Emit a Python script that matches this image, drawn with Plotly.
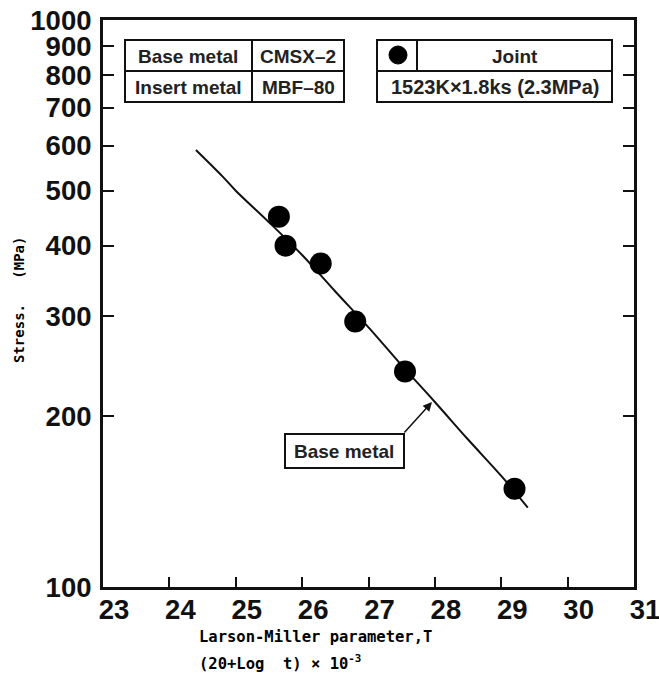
import plotly.graph_objects as go

# ---- data ----
joint_lmp = [25.65, 25.75, 26.28, 26.8, 27.55, 29.2]
joint_stress = [450, 400, 372, 294, 240, 149]

base_lmp = [24.4, 24.8, 25.0, 25.5, 26.0, 26.5, 27.0, 27.5, 28.0, 28.5, 29.0, 29.4]
base_stress = [590, 530, 500, 440, 385, 332, 287, 246, 212, 182, 157, 138]

x_ticks = [23, 24, 25, 26, 27, 28, 29, 30, 31]
y_ticks = [100, 200, 300, 400, 500, 600, 700, 800, 900, 1000]

# ---- layout helpers (pixel -> paper) ----
W, H = 659, 677
L, R, T, B = 103, 634, 20, 587


def px(x):
    return (x - L) / (R - L)


def py(y):
    return (B - y) / (B - T)


fig = go.Figure()
fig.add_trace(go.Scatter(x=base_lmp, y=base_stress, mode="lines",
                         line=dict(color="#111", width=2, shape="spline"),
                         hoverinfo="skip"))
fig.add_trace(go.Scatter(x=joint_lmp, y=joint_stress, mode="markers",
                         marker=dict(color="#000", size=22)))

tickfont = dict(family="Liberation Sans, Arial, sans-serif", size=27.5, color="#111", weight="bold")

fig.update_xaxes(range=[23, 31], tickvals=x_ticks, ticktext=[str(v) for v in x_ticks],
                 ticks="inside", ticklen=10, tickwidth=2, tickcolor="#111",
                 showline=True, linewidth=3, linecolor="#111", mirror=True,
                 showgrid=False, zeroline=False, tickfont=tickfont, ticklabelshift=11,
                 ticklabelstandoff=-4, ticklabeloverflow="allow", automargin=False)
fig.update_yaxes(type="log", range=[2, 3], tickvals=y_ticks, ticktext=[str(v) for v in y_ticks],
                 ticks="inside", ticklen=11, tickwidth=2, tickcolor="#111",
                 showline=True, linewidth=3, linecolor="#111", mirror="ticks",
                 showgrid=False, zeroline=False, tickfont=tickfont, ticklabelstandoff=3,
                 ticklabeloverflow="allow", automargin=False)

lw = dict(color="#111", width=2)
shapes = [
    # left table
    dict(type="rect", x0=px(125), x1=px(344), y0=py(102), y1=py(40), line=lw),
    dict(type="line", x0=px(252), x1=px(252), y0=py(102), y1=py(40), line=lw),
    dict(type="line", x0=px(125), x1=px(344), y0=py(71), y1=py(71), line=lw),
    # right table
    dict(type="rect", x0=px(377), x1=px(612), y0=py(102), y1=py(40), line=lw),
    dict(type="line", x0=px(417), x1=px(417), y0=py(71), y1=py(40), line=lw),
    dict(type="line", x0=px(377), x1=px(612), y0=py(71), y1=py(71), line=lw),
    dict(type="circle", x0=px(389), x1=px(407), y0=py(64), y1=py(46),
         fillcolor="#000", line=dict(color="#000", width=1)),
    # base metal label box
    dict(type="rect", x0=px(285), x1=px(404), y0=py(468), y1=py(434), line=lw),
]
for s in shapes:
    s["xref"] = "paper"
    s["yref"] = "paper"

cellfont = dict(family="Liberation Sans, Arial, sans-serif", size=19, color="#222", weight="bold")
widefont = dict(family="Liberation Sans, Arial, sans-serif", size=20, color="#222", weight="bold")


def label(x, y, text, font=cellfont, **kw):
    return dict(x=px(x), y=py(y), xref="paper", yref="paper", text=text,
                showarrow=False, xanchor="center", yanchor="middle", font=font, **kw)


mono = dict(family="DejaVu Sans Mono, monospace", size=15.5, color="#000", weight="bold")
mono_y = dict(family="DejaVu Sans Mono, monospace", size=14, color="#000", weight="bold")

annotations = [
    label(188, 56, "Base metal"),
    label(298, 56, "CMSX\u20132"),
    label(188, 87, "Insert metal"),
    label(298, 87, "MBF\u201380"),
    label(515, 56, "Joint"),
    label(495, 87, "1523K\u00d71.8ks (2.3MPa)", font=widefont),
    label(344, 451, "Base metal"),
    dict(x=px(432), y=py(402), xref="paper", yref="paper", text="", showarrow=True,
         ax=403 - 432, ay=434 - 402, axref="pixel", ayref="pixel",
         arrowhead=2, arrowsize=1.2, arrowwidth=1.5, arrowcolor="#111"),
    dict(x=px(197), y=py(637), xref="paper", yref="paper",
         text="Larson-Miller parameter,T", showarrow=False,
         xanchor="left", yanchor="middle", font=mono),
    dict(x=px(197), y=py(662), xref="paper", yref="paper",
         text="(20+Log\u00a0\u00a0t)\u00a0\u00d7\u00a010<sup>-3</sup>", showarrow=False,
         xanchor="left", yanchor="middle", font=mono),
    dict(x=px(19), y=py(300), xref="paper", yref="paper",
         text="Stress.\u00a0\u00a0\u00a0(MPa)", showarrow=False, textangle=-90,
         xanchor="center", yanchor="middle", font=mono_y),
]

fig.update_layout(width=W, height=H, margin=dict(l=L, r=W - R, t=T, b=H - B, autoexpand=False),
                  paper_bgcolor="white", plot_bgcolor="white", showlegend=False,
                  shapes=shapes, annotations=annotations)

fig.write_html("out.html")
